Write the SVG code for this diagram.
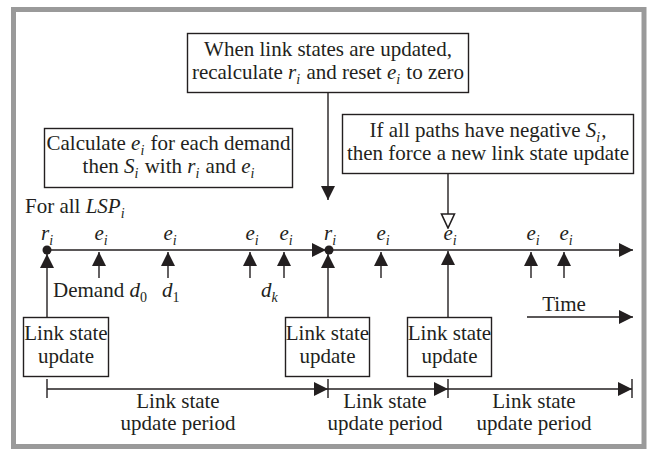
<svg xmlns="http://www.w3.org/2000/svg" width="654" height="451" viewBox="0 0 654 451">
<defs>
<style>
text{font-family:"Liberation Serif","Times New Roman",serif;font-size:21px;fill:#231f20}
.c{text-anchor:middle}
.it{font-style:italic}
.sb{font-size:14px}
.box{fill:#fff;stroke:#231f20;stroke-width:1.4}
.ln{fill:none;stroke:#231f20;stroke-width:1.4}
</style>
<marker id="ah" viewBox="0 0 14 14" refX="14" refY="7" markerWidth="14" markerHeight="14" markerUnits="userSpaceOnUse" orient="auto">
<path d="M0,0 L14,7 L0,14 z" fill="#231f20"/>
</marker>
<marker id="ho" viewBox="0 0 16 16" refX="15" refY="8" markerWidth="16" markerHeight="16" markerUnits="userSpaceOnUse" orient="auto">
<path d="M1,1.5 L15,8 L1,14.5 z" fill="#fff" stroke="#231f20" stroke-width="1.6"/>
</marker>
</defs>
<rect x="0" y="0" width="654" height="451" fill="#fff"/>
<rect x="13.5" y="9.5" width="630.5" height="437" fill="none" stroke="#9a9a9a" stroke-width="5"/>

<g id="connectors">
<line class="ln" x1="328" y1="93" x2="328" y2="200" marker-end="url(#ah)"/>
<line class="ln" x1="448" y1="173" x2="448" y2="228" stroke-width="2.2" marker-end="url(#ho)"/>
<line class="ln" x1="47" y1="250" x2="326" y2="250" marker-end="url(#ah)"/>
<line class="ln" x1="328" y1="250" x2="633" y2="250" marker-end="url(#ah)"/>
<circle cx="47" cy="250" r="4.5" fill="#231f20"/>
<circle cx="329" cy="250" r="4.5" fill="#231f20"/>
<line class="ln" x1="47" y1="317" x2="47" y2="254" marker-end="url(#ah)"/>
<line class="ln" x1="328" y1="317" x2="328" y2="254" marker-end="url(#ah)"/>
<line class="ln" x1="448" y1="317" x2="448" y2="251" marker-end="url(#ah)"/>
<line class="ln" x1="99" y1="278" x2="99" y2="252" marker-end="url(#ah)"/>
<line class="ln" x1="168" y1="278" x2="168" y2="252" marker-end="url(#ah)"/>
<line class="ln" x1="250" y1="278" x2="250" y2="252" marker-end="url(#ah)"/>
<line class="ln" x1="284" y1="278" x2="284" y2="252" marker-end="url(#ah)"/>
<line class="ln" x1="381" y1="278" x2="381" y2="252" marker-end="url(#ah)"/>
<line class="ln" x1="531" y1="278" x2="531" y2="252" marker-end="url(#ah)"/>
<line class="ln" x1="564" y1="278" x2="564" y2="252" marker-end="url(#ah)"/>
<line class="ln" x1="527" y1="317" x2="633" y2="317" marker-end="url(#ah)"/>
<line class="ln" x1="47" y1="379" x2="47" y2="398"/>
<line class="ln" x1="328" y1="379" x2="328" y2="398"/>
<line class="ln" x1="448" y1="379" x2="448" y2="398"/>
<line class="ln" x1="632" y1="379" x2="632" y2="398"/>
<line class="ln" x1="47" y1="389" x2="328" y2="389" marker-end="url(#ah)"/>
<line class="ln" x1="328" y1="389" x2="448" y2="389" marker-end="url(#ah)"/>
<line class="ln" x1="448" y1="389" x2="632" y2="389" marker-end="url(#ah)"/>
</g>

<g id="box-update-note">
<rect class="box" x="187.5" y="33.5" width="281" height="59"/>
<text class="c" x="328" y="56">When link states are updated,</text>
<text class="c" x="328" y="79">recalculate <tspan class="it">r</tspan><tspan class="sb it" dy="5">i</tspan><tspan dy="-5" dx="1"> and reset </tspan><tspan class="it">e</tspan><tspan class="sb it" dy="5">i</tspan><tspan dy="-5" dx="1"> to zero</tspan></text>
</g>

<g id="box-calc-note">
<rect class="box" x="44.5" y="128.5" width="248" height="59"/>
<text class="c" x="168.5" y="150">Calculate <tspan class="it">e</tspan><tspan class="sb it" dy="5">i</tspan><tspan dy="-5" dx="1"> for each demand</tspan></text>
<text class="c" x="168.5" y="173">then <tspan class="it">S</tspan><tspan class="sb it" dy="5">i</tspan><tspan dy="-5" dx="1"> with </tspan><tspan class="it">r</tspan><tspan class="sb it" dy="5">i</tspan><tspan dy="-5" dx="1"> and </tspan><tspan class="it">e</tspan><tspan class="sb it" dy="5">i</tspan></text>
</g>

<g id="box-force-note">
<rect class="box" x="342.5" y="114.5" width="291" height="59"/>
<text class="c" x="488" y="137">If all paths have negative <tspan class="it">S</tspan><tspan class="sb it" dy="5">i</tspan><tspan dy="-5" dx="1">,</tspan></text>
<text class="c" x="488" y="160">then force a new link state update</text>
</g>

<g id="timeline-labels">
<text x="25" y="213">For all <tspan class="it">LSP</tspan><tspan class="sb it" dy="5">i</tspan></text>
<text class="c" x="47" y="240"><tspan class="it">r</tspan><tspan class="sb it" dy="5">i</tspan></text>
<text class="c" x="330" y="240"><tspan class="it">r</tspan><tspan class="sb it" dy="5">i</tspan></text>
<text class="c" x="101" y="240"><tspan class="it">e</tspan><tspan class="sb it" dy="5">i</tspan></text>
<text class="c" x="170" y="240"><tspan class="it">e</tspan><tspan class="sb it" dy="5">i</tspan></text>
<text class="c" x="252" y="240"><tspan class="it">e</tspan><tspan class="sb it" dy="5">i</tspan></text>
<text class="c" x="286" y="240"><tspan class="it">e</tspan><tspan class="sb it" dy="5">i</tspan></text>
<text class="c" x="383" y="240"><tspan class="it">e</tspan><tspan class="sb it" dy="5">i</tspan></text>
<text class="c" x="450" y="240"><tspan class="it">e</tspan><tspan class="sb it" dy="5">i</tspan></text>
<text class="c" x="533" y="240"><tspan class="it">e</tspan><tspan class="sb it" dy="5">i</tspan></text>
<text class="c" x="566" y="240"><tspan class="it">e</tspan><tspan class="sb it" dy="5">i</tspan></text>
<text x="53" y="297">Demand <tspan class="it">d</tspan><tspan class="sb" dy="5">0</tspan></text>
<text x="162" y="297"><tspan class="it">d</tspan><tspan class="sb" dy="5">1</tspan></text>
<text x="261" y="297"><tspan class="it">d</tspan><tspan class="sb it" dy="5">k</tspan></text>
<text class="c" x="564" y="311">Time</text>
</g>

<g id="lsu-1">
<rect class="box" x="23.5" y="317.5" width="85" height="59"/>
<text class="c" x="66" y="340">Link state</text>
<text class="c" x="66" y="363">update</text>
</g>
<g id="lsu-2">
<rect class="box" x="285.5" y="317.5" width="84" height="59"/>
<text class="c" x="327.5" y="340">Link state</text>
<text class="c" x="327.5" y="363">update</text>
</g>
<g id="lsu-3">
<rect class="box" x="407.5" y="317.5" width="84" height="59"/>
<text class="c" x="449.5" y="340">Link state</text>
<text class="c" x="449.5" y="363">update</text>
</g>

<g id="period-labels">
<text class="c" x="178" y="408">Link state</text>
<text class="c" x="178" y="430">update period</text>
<text class="c" x="385" y="408">Link state</text>
<text class="c" x="385" y="430">update period</text>
<text class="c" x="534" y="408">Link state</text>
<text class="c" x="534" y="430">update period</text>
</g>
</svg>
